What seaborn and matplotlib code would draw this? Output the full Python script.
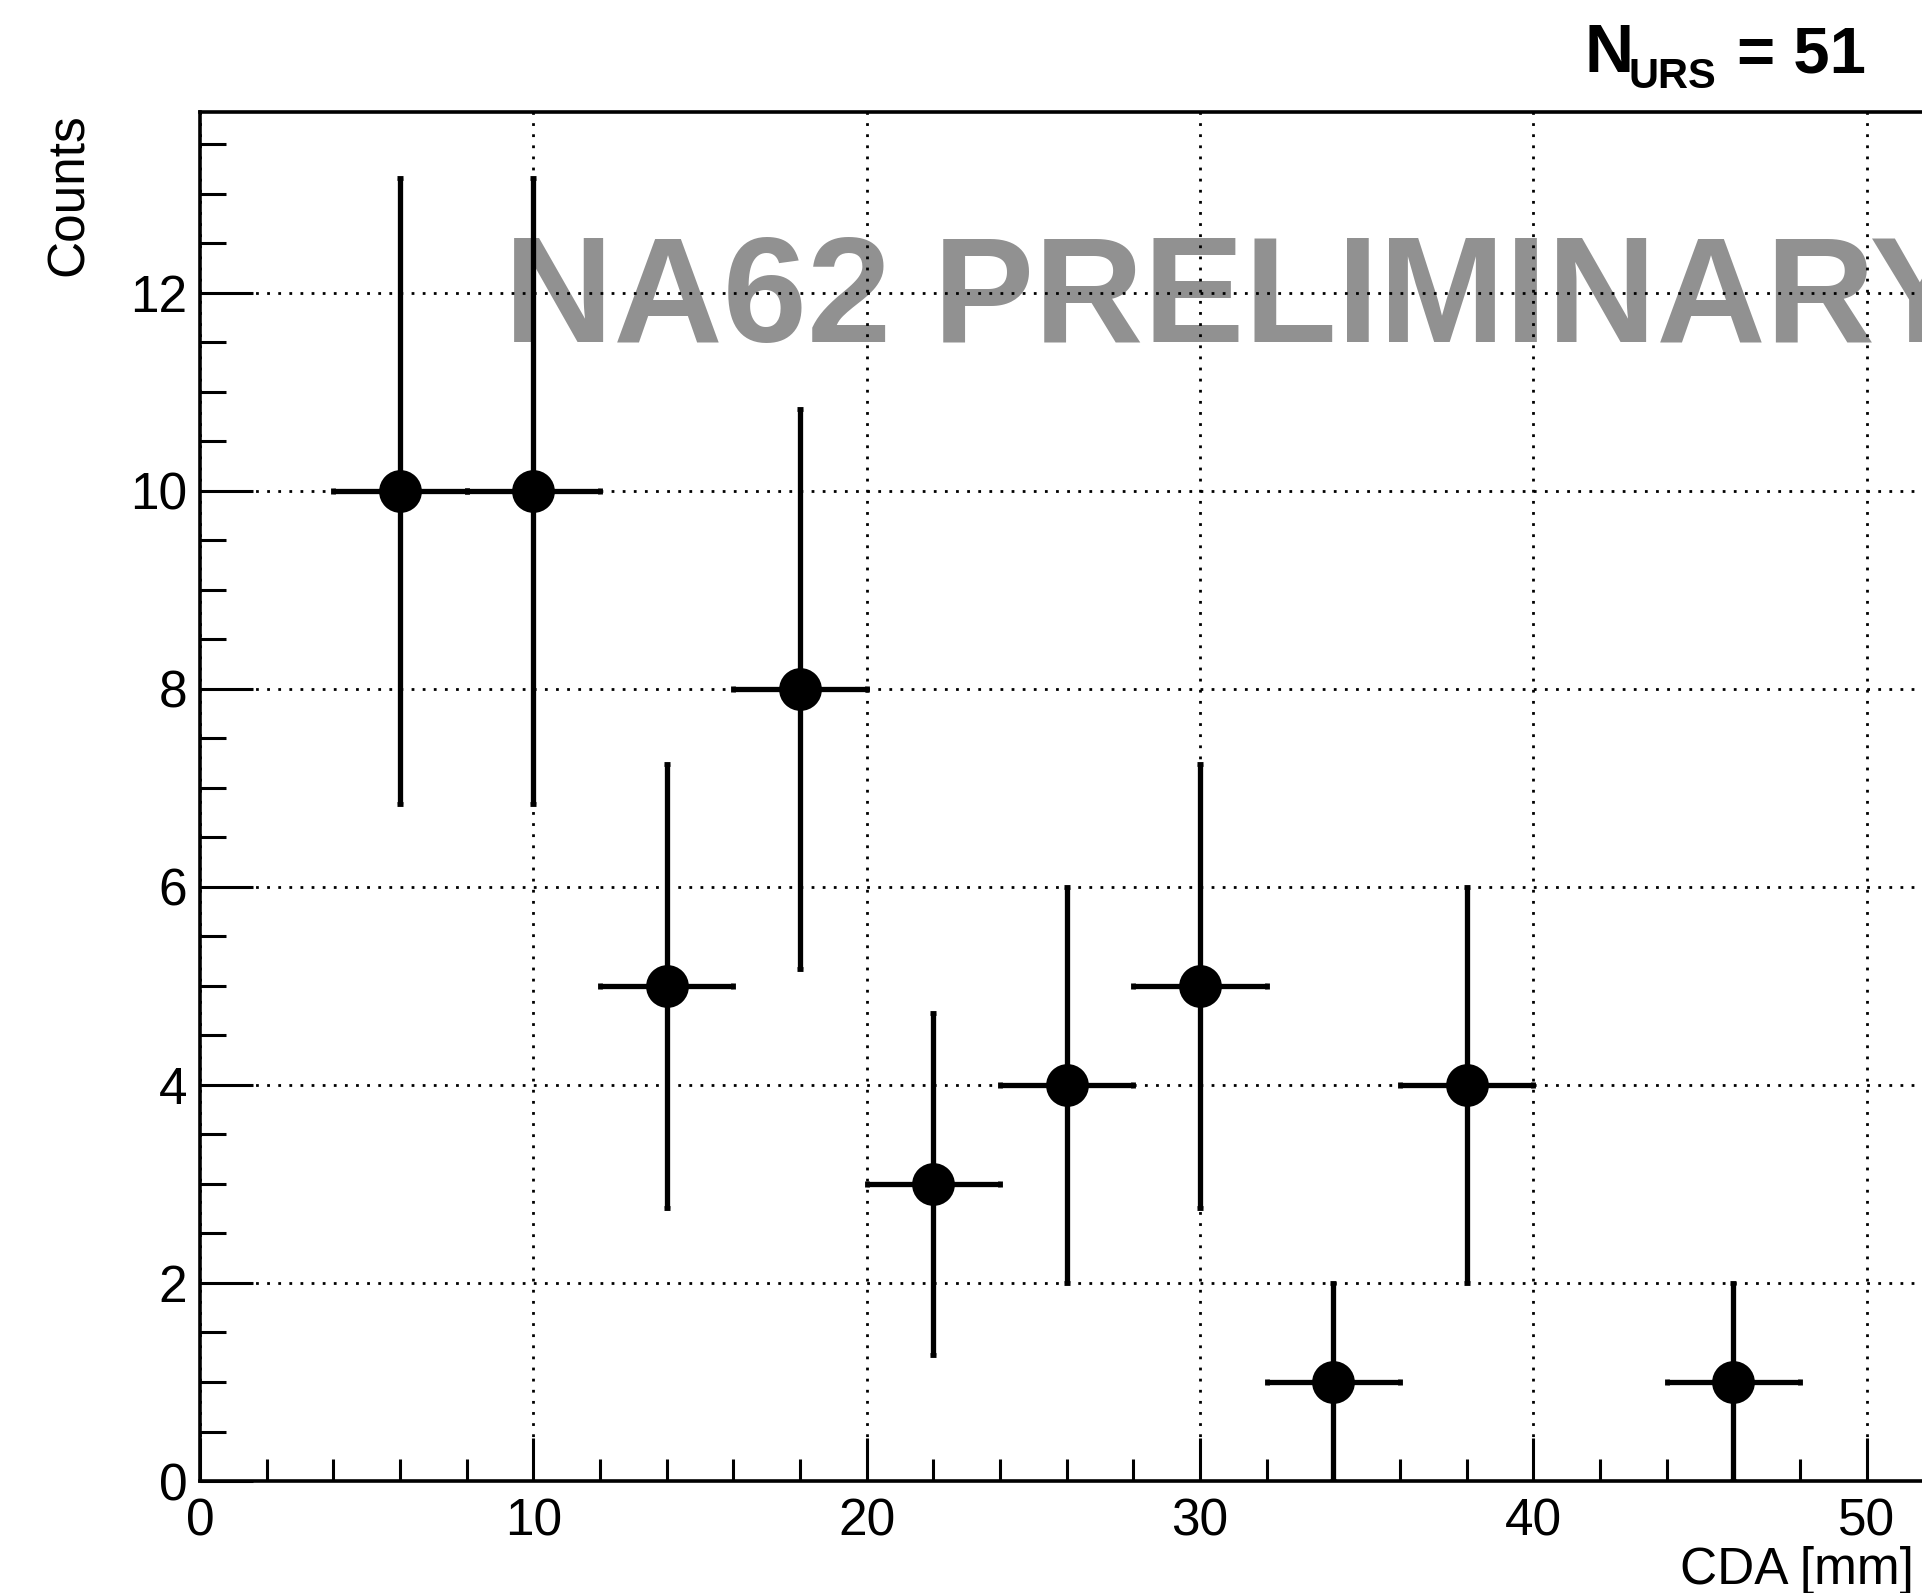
import numpy as np
import pandas as pd
import matplotlib
matplotlib.use("Agg")
import matplotlib.pyplot as plt
import seaborn as sns
from matplotlib.ticker import MultipleLocator

# dados (centros dos bins de 4 mm)
cda = [6, 10, 14, 18, 22, 26, 30, 34, 38, 46]
counts = [10, 10, 5, 8, 3, 4, 5, 1, 4, 1]
err_y = [3.16, 3.16, 2.24, 2.83, 1.73, 2.0, 2.24, 1.0, 2.0, 1.0]
err_x = [2, 2, 2, 2, 2, 2, 2, 2, 2, 2]
n_urs = 51

df = pd.DataFrame({'cda': cda, 'counts': counts})

sns.set_theme(style='ticks')
plt.rcParams['font.family'] = ['Liberation Sans', 'DejaVu Sans']
plt.rcParams['text.color'] = 'black'

fig = plt.figure(figsize=(19.22, 15.93), dpi=100)
ax = fig.add_axes([0.104, 0.0703, 0.896, 0.8597])

# barras de erro
ax.errorbar(cda, counts, xerr=err_x, yerr=err_y, fmt='none', ecolor='black',
            elinewidth=3.8, capsize=2.5, capthick=3.5, zorder=3)
sns.scatterplot(data=df, x='cda', y='counts', ax=ax, color='black', s=950,
                edgecolor='black', linewidth=0, zorder=4, legend=False)

ax.set_xlim(0, 51.66)
ax.set_ylim(0, 13.83)
ax.xaxis.set_major_locator(MultipleLocator(10))
ax.xaxis.set_minor_locator(MultipleLocator(2))
ax.yaxis.set_major_locator(MultipleLocator(2))
ax.yaxis.set_minor_locator(MultipleLocator(0.5))
ax.grid(True, which='major', color='black', linestyle=(0, (1, 3)), linewidth=2)
ax.tick_params(which='both', direction='in', width=2.2, colors='black',
               top=False, right=False, labelsize=37)
ax.tick_params(axis='x', which='major', length=31, pad=12)
ax.tick_params(axis='x', which='minor', length=16)
ax.tick_params(axis='y', which='major', length=38, pad=9)
ax.tick_params(axis='y', which='minor', length=19)
for s in ['left', 'bottom', 'top']:
    ax.spines[s].set_linewidth(2.6)
    ax.spines[s].set_color('black')
ax.spines['right'].set_visible(False)
ax.set_xlabel('')
ax.set_ylabel('')

fig.text(0.996, -0.001, 'CDA [mm]', ha='right', va='bottom', fontsize=37)
fig.text(0.036, 0.929, 'Counts', rotation=90, ha='center', va='top', fontsize=37)

# N_URS = 51 (indice desenhado a parte)
fig.text(0.8245, 0.9548, 'N', ha='left', va='baseline', fontsize=49, fontweight='bold')
fig.text(0.8475, 0.9448, 'URS', ha='left', va='baseline', fontsize=30, fontweight='bold')
fig.text(0.9035, 0.9548, '= %d' % n_urs, ha='left', va='baseline', fontsize=47,
         fontweight='bold')

fig.text(0.262, 0.785, 'NA62 PRELIMINARY', ha='left', va='baseline',
         fontsize=109, fontweight='bold', color='black', alpha=0.43, zorder=10)

fig.savefig('out.png', dpi=100)
